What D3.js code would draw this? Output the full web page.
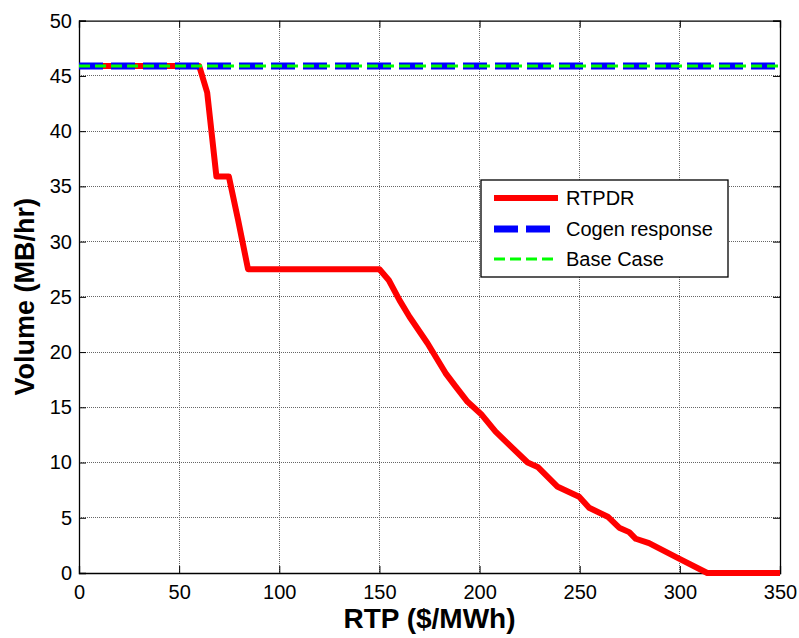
<!DOCTYPE html>
<html><head><meta charset="utf-8">
<script src="https://cdn.jsdelivr.net/npm/d3@7"></script>
<style>body{margin:0;background:#fff}svg{display:block;font-family:Arial,"Liberation Sans",sans-serif}</style>
</head><body><svg id="c" width="799" height="638"></svg>
<script>
const xTicks = [0,50,100,150,200,250,300,350];
const yTicks = [0,5,10,15,20,25,30,35,40,45,50];
const rtpdrX = [0,60,64,68.6,74.8,79.4,84.4,150,154.7,160,165,174,183,188,194,200.7,208,216.5,224,229,239,249.7,254.7,264,269.7,274.7,278,284.6,299.6,313.7,350];
const rtpdrY = [45.9,45.9,43.5,35.9,35.9,32,27.5,27.5,26.5,24.7,23.2,20.8,18.1,16.9,15.5,14.4,12.8,11.3,10.0,9.6,7.8,6.9,5.9,5.1,4.1,3.7,3.1,2.7,1.3,0,0];
const cogenX = [0,350], cogenY = [45.9,45.9];
const baseX = [0,350], baseY = [45.9,45.9];
const legendLabels = ["RTPDR","Cogen response","Base Case"];

const svg = d3.select("#c");
const m = {l:79,r:780,t:20.7,b:573};
const x = d3.scaleLinear().domain([0,350]).range([m.l,m.r]);
const y = d3.scaleLinear().domain([0,50]).range([m.b,m.t]);

// grid
const g = svg.append("g");
g.selectAll(".gx").data(xTicks.slice(1,-1)).join("line")
 .attr("x1",d=>x(d)).attr("x2",d=>x(d)).attr("y1",m.t).attr("y2",m.b)
 .attr("stroke","#666").attr("stroke-width",1).attr("stroke-dasharray","1,1").attr("shape-rendering","crispEdges");
g.selectAll(".gy").data(yTicks.slice(1,-1)).join("line")
 .attr("y1",d=>y(d)).attr("y2",d=>y(d)).attr("x1",m.l).attr("x2",m.r)
 .attr("stroke","#666").attr("stroke-width",1).attr("stroke-dasharray","1,1").attr("shape-rendering","crispEdges");

// axes
const tl = 7;
const ax = svg.append("g").attr("transform",`translate(0,${m.b})`)
 .call(d3.axisBottom(x).tickValues(xTicks).tickSize(-tl).tickPadding(12));
const axT = svg.append("g").attr("transform",`translate(0,${m.t})`)
 .call(d3.axisTop(x).tickValues(xTicks).tickSize(-tl).tickFormat(""));
const ay = svg.append("g").attr("transform",`translate(${m.l},0)`)
 .call(d3.axisLeft(y).tickValues(yTicks).tickSize(-tl).tickPadding(7));
const ayR = svg.append("g").attr("transform",`translate(${m.r},0)`)
 .call(d3.axisRight(y).tickValues(yTicks).tickSize(-tl).tickFormat(""));
[ax,axT,ay,ayR].forEach(a=>{
  a.select(".domain").attr("stroke","#000").attr("stroke-width",1.3);
  a.selectAll(".tick line").attr("stroke","#000").attr("stroke-width",1);
  a.selectAll("text").attr("font-size",20).attr("fill","#000").attr("font-family","Arial, 'Liberation Sans', sans-serif");
});
ax.selectAll("text").attr("dy","0.71em");

// lines
const line = d3.line().x(d=>x(d[0])).y(d=>y(d[1]));
svg.append("path").datum(rtpdrX.map((v,i)=>[v,rtpdrY[i]]))
 .attr("d",line).attr("fill","none").attr("stroke","#ff0000").attr("stroke-width",6).attr("stroke-linejoin","round");
svg.append("path").datum(cogenX.map((v,i)=>[v,cogenY[i]]))
 .attr("d",line).attr("fill","none").attr("stroke","#0000ff").attr("stroke-width",7).attr("stroke-dasharray","24,8");
svg.append("path").datum(baseX.map((v,i)=>[v,baseY[i]]))
 .attr("d",line).attr("fill","none").attr("stroke","#00ff00").attr("stroke-width",3).attr("stroke-dasharray","11,5");

// legend
const lg = svg.append("g");
lg.append("rect").attr("x",481).attr("y",180).attr("width",247).attr("height",97)
 .attr("fill","#fff").attr("stroke","#000").attr("stroke-width",1.3);
const styles = [{c:"#ff0000",w:6,d:null},{c:"#0000ff",w:7,d:"24,8"},{c:"#00ff00",w:3,d:"11,5"}];
const rowsY = [198,229,259];
legendLabels.forEach((t,i)=>{
  const s = styles[i];
  lg.append("line").attr("x1",494).attr("x2",558).attr("y1",rowsY[i]).attr("y2",rowsY[i])
    .attr("stroke",s.c).attr("stroke-width",s.w).attr("stroke-dasharray",s.d);
  lg.append("text").attr("x",566).attr("y",rowsY[i]).attr("dy","0.35em")
    .attr("font-size",20).text(t);
});

// titles
svg.append("text").attr("x",(m.l+m.r)/2).attr("y",628).attr("text-anchor","middle")
 .attr("font-size",28).attr("font-weight","bold").text("RTP ($/MWh)");
svg.append("text").attr("transform",`translate(34,${(m.t+m.b)/2}) rotate(-90)`).attr("text-anchor","middle")
 .attr("font-size",27).attr("font-weight","bold").text("Volume (MB/hr)");
</script></body></html>
